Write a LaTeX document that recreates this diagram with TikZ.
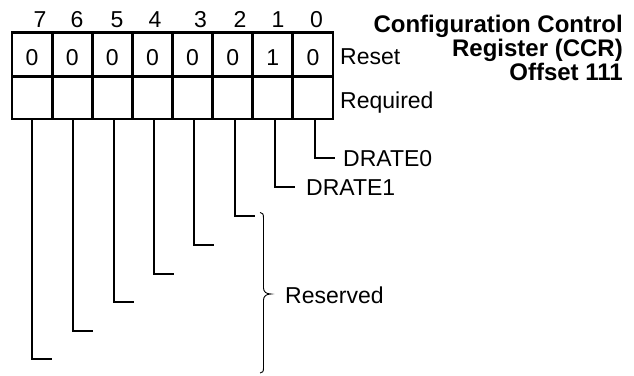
\documentclass[tikz,border=0pt]{standalone}
\usepackage{fontspec}
\setmainfont{Liberation Sans}
\begin{document}
\begin{tikzpicture}[x=1pt,y=-1pt,
  txt/.style={inner sep=0pt, font=\fontsize{23}{27}\selectfont},
  ttl/.style={inner sep=0pt, anchor=base east, font=\bfseries\fontsize{24}{26}\selectfont},
  gridline/.style={line width=2.8pt},
  leader/.style={line width=2.4pt},
  bracepath/.style={line width=0.9pt}]
\useasboundingbox (0,0) rectangle (634,375);
% register grid
\draw[gridline] (12,32.5) rectangle (333,119);
\draw[gridline] (12,76.5) -- (333,76.5);
\foreach \i in {1,...,7} \draw[gridline] ({12+40.125*\i},32.5) -- ({12+40.125*\i},119);
% bit numbers
\foreach \b/\nx in {7/40,6/77,5/117,4/155,3/200.5,2/240,1/278,0/316.5}
  \node[txt, anchor=base] (num\b) at (\nx,27) {\b};
% reset values
\foreach \b/\v in {7/0,6/0,5/0,4/0,3/0,2/0,1/1,0/0} {
  \pgfmathsetmacro\cx{12+40.125*(7.5-\b)}
  \node[txt, anchor=base] (rst\b) at (\cx,65) {\v};
}
\node[txt, anchor=base west] (reset) at (340,64.5) {Reset};
\node[txt, anchor=base west] (required) at (340,108) {Required};
% title
\node[ttl] (t1) at (623,32.5) {Configuration Control};
\node[ttl] (t2) at (623,56.5) {Register (CCR)};
\node[ttl] (t3) at (623,80.5) {Offset 111};
% field labels
\node[txt, anchor=base west] (drate0) at (343,166.3) {DRATE0};
\node[txt, anchor=base west] (drate1) at (306,195.3) {DRATE1};
\node[txt, anchor=base west] (reserved) at (285,303) {Reserved};
% leaders
\foreach \b/\lx/\hy in {7/32/359,6/73/331,5/114/302,4/154/274,3/194/245,2/235/216,1/275/187,0/315/158} {
  \coordinate (top\b) at (\lx,119);
  \coordinate (hook\b) at (\lx+20,\hy);
  \draw[leader] (top\b) |- (hook\b);
}
% brace
\coordinate (brtop) at (260,212.5);
\coordinate (brtip) at (271,294);
\coordinate (brbot) at (260,373);
\draw[bracepath] (brtop) .. controls (262.5,212.5) and (263.5,214) .. (263.5,218)
  -- (263.5,288) .. controls (263.5,291.5) and (266,294) .. (brtip)
  .. controls (266,294) and (263.5,296.5) .. (263.5,300)
  -- (263.5,368) .. controls (263.5,371.5) and (262.5,373) .. (brbot);
\end{tikzpicture}
\end{document}
